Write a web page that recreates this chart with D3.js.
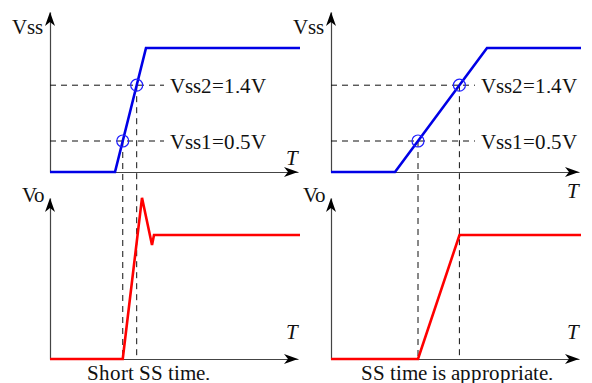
<!DOCTYPE html>
<html>
<head>
<meta charset="utf-8">
<script src="https://cdn.jsdelivr.net/npm/d3@7"></script>
<style>
  @font-face {
    font-family: "ChartSerif";
    src: local("Liberation Serif"), local("LiberationSerif-Regular"), local("LiberationSerif"),
         local("Times New Roman"), local("DejaVu Serif"), local("DejaVuSerif");
    font-style: normal;
  }
  @font-face {
    font-family: "ChartSerif";
    src: local("Liberation Serif Italic"), local("LiberationSerif-Italic"),
         local("Times New Roman Italic"), local("DejaVu Serif Italic"), local("DejaVuSerif-Italic");
    font-style: italic;
  }
  html, body { margin: 0; padding: 0; background: #fff; }
  svg { display: block; }
</style>
</head>
<body>
<svg id="chart" width="592" height="383"></svg>
<script>
// Soft-start reference levels (V)
const vssMarks = [
  { name: "Vss1", value: 0.5, label: "Vss1=0.5V" },
  { name: "Vss2", value: 1.4, label: "Vss2=1.4V" }
];

// Vss ramp, [time, volts]: short soft-start vs appropriate soft-start
const vssShort = [[0, 0], [26, 0], [38.4, 2.0], [100, 2.0]];
const vssGood  = [[0, 0], [25.6, 0], [62.4, 2.0], [100, 2.0]];

// Output voltage, [time, normalised Vo]
const voShort = [[0, 0], [29.1, 0], [36.8, 1.30], [40.8, 0.92], [41.6, 1.0], [100, 1.0]];
const voGood  = [[0, 0], [34.8, 0], [51.4, 1.0], [100, 1.0]];

const captions = ["Short SS time.", "SS time is appropriate."];

const panels = [
  { ox: 50,  vss: vssShort, vo: voShort, caption: captions[0], labelX: 170, tTop: [292, 165], capX: 148 },
  { ox: 331, vss: vssGood,  vo: voGood,  caption: captions[1], labelX: 481, tTop: [573, 198], capX: 457 }
];

const svg = d3.select("#chart");
const FONT = 21;
const SERIF = "ChartSerif, 'Liberation Serif', 'Times New Roman', Times, 'DejaVu Serif', serif";

// vertical layout of the two rows
const rowVss = { base: 172, tip: 12 };
const rowVo  = { base: 359, tip: 198 };

const yVss = d3.scaleLinear().domain([0, 2.0]).range([rowVss.base, 48]);
const yVo  = d3.scaleLinear().domain([0, 1.0]).range([rowVo.base, 235]);

const line = d3.line();

// time at which a piecewise-linear ramp crosses a level
function crossTime(data, v) {
  for (let i = 1; i < data.length; i++) {
    const [t0, v0] = data[i - 1], [t1, v1] = data[i];
    if ((v - v0) * (v - v1) <= 0 && v1 !== v0) return t0 + (v - v0) / (v1 - v0) * (t1 - t0);
  }
  return null;
}

function label(g, x, y, str, anchor, italic) {
  return g.append("text")
    .attr("x", x).attr("y", y)
    .attr("text-anchor", anchor || "start")
    .attr("font-family", SERIF)
    .attr("font-size", FONT)
    .attr("font-style", italic ? "italic" : "normal")
    .attr("fill", "#111")
    .text(str);
}

function arrowHead(g, x, y, angle) {
  g.append("path")
    .attr("d", "M0,0 L-14,-5 L-10,0 L-14,5 Z")
    .attr("transform", `translate(${x},${y}) rotate(${angle})`)
    .attr("fill", "#000");
}

function drawAxes(g, ox, row) {
  const xAxisScale = d3.scaleLinear().range([ox, ox + 248]);
  const yAxisScale = d3.scaleLinear().range([row.base, row.tip]);
  const ax = g.append("g")
    .attr("transform", `translate(0,${row.base})`)
    .call(d3.axisBottom(xAxisScale).tickValues([]).tickSizeOuter(0));
  const ay = g.append("g")
    .attr("transform", `translate(${ox},0)`)
    .call(d3.axisLeft(yAxisScale).tickValues([]).tickSizeOuter(0));
  [ax, ay].forEach(a => a.select(".domain").attr("stroke", "#444").attr("stroke-width", 1.2));
  arrowHead(g, ox + 248, row.base, 0);
  arrowHead(g, ox, row.tip, -90);
}

panels.forEach(p => {
  const g = svg.append("g");
  const x = d3.scaleLinear().domain([0, 100]).range([p.ox, p.ox + 250]);

  drawAxes(g, p.ox, rowVss);
  drawAxes(g, p.ox, rowVo);

  // reference-level guides and labels
  const marks = vssMarks.map(m => {
    const t = crossTime(p.vss, m.value);
    const cx = x(t), cy = yVss(m.value);
    g.append("line")
      .attr("x1", p.ox).attr("x2", p.labelX - 6)
      .attr("y1", cy).attr("y2", cy)
      .attr("stroke", "#111").attr("stroke-width", 1)
      .attr("stroke-dasharray", "6,5");
    g.append("line")
      .attr("x1", cx).attr("x2", cx)
      .attr("y1", cy).attr("y2", rowVo.base)
      .attr("stroke", "#111").attr("stroke-width", 1)
      .attr("stroke-dasharray", "6,5");
    label(g, p.labelX, cy + 8, m.label);
    return { cx, cy };
  });

  g.append("path")
    .datum(p.vss.map(d => [x(d[0]), yVss(d[1])]))
    .attr("d", line)
    .attr("fill", "none").attr("stroke", "#0000e6")
    .attr("stroke-width", 2.6).attr("stroke-linejoin", "miter");

  marks.forEach(m => {
    g.append("circle")
      .attr("cx", m.cx).attr("cy", m.cy).attr("r", 6)
      .attr("fill", "none").attr("stroke", "#2020ff").attr("stroke-width", 1.2);
  });

  g.append("path")
    .datum(p.vo.map(d => [x(d[0]), yVo(d[1])]))
    .attr("d", line)
    .attr("fill", "none").attr("stroke", "#ff0000")
    .attr("stroke-width", 2.6).attr("stroke-linejoin", "miter");

  // axis names
  label(g, p.ox - 7, 34, "Vss", "end");
  label(g, p.ox - 5, 202, "Vo", "end");
  label(g, p.tTop[0], p.tTop[1], "T", "middle", true);
  label(g, p.ox + 242, 339, "T", "middle", true);

  label(g, p.capX, 380, p.caption, "middle");
});
</script>
</body>
</html>
